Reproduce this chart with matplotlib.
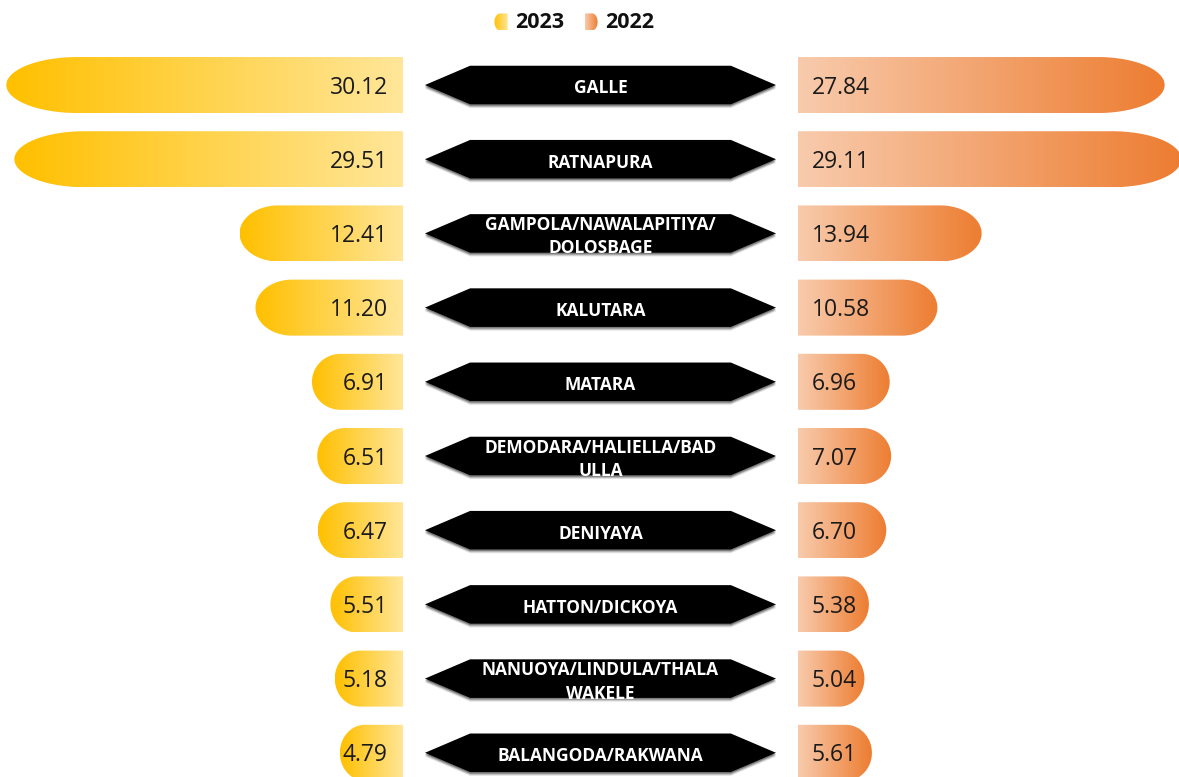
import numpy as np
import matplotlib.pyplot as plt
from matplotlib.colors import LinearSegmentedColormap
from matplotlib.patches import Polygon

regions = ["GALLE", "RATNAPURA", "GAMPOLA/NAWALAPITIYA/\nDOLOSBAGE", "KALUTARA",
           "MATARA", "DEMODARA/HALIELLA/BAD\nULLA", "DENIYAYA", "HATTON/DICKOYA",
           "NANUOYA/LINDULA/THALA\nWAKELE", "BALANGODA/RAKWANA"]
v2023 = [30.12, 29.51, 12.41, 11.20, 6.91, 6.51, 6.47, 5.51, 5.18, 4.79]
v2022 = [27.84, 29.11, 13.94, 10.58, 6.96, 7.07, 6.70, 5.38, 5.04, 5.61]
years = ["2023", "2022"]

plt.rcParams['font.family'] = ['Open Sans', 'DejaVu Sans']

cmap23 = LinearSegmentedColormap.from_list("c23", ["#FFC000", "#FFE699"])
cmap22 = LinearSegmentedColormap.from_list("c22", ["#F8CBAD", "#ED7D31"])

GAP = 15.0      # half width of the middle gap, in value units
BAR_H = 0.755


def bar_shape(x0, x1, yc, h, cap):
    # flat end at x0, rounded end at x1
    s = 1 if x1 > x0 else -1
    xc = x1 - s * cap
    t = np.linspace(-np.pi / 2, np.pi / 2, 60)
    ex = xc + s * cap * np.cos(t)
    ey = yc + h / 2 * np.sin(t)
    return [(x0, yc - h / 2)] + list(zip(ex, ey)) + [(x0, yc + h / 2)]


def grad_bar(ax, x0, x1, yc, h, cap, cmap):
    poly = Polygon(bar_shape(x0, x1, yc, h, cap), closed=True,
                   facecolor='none', edgecolor='none')
    ax.add_patch(poly)
    grad = np.linspace(0, 1, 256).reshape(1, -1)
    im = ax.imshow(grad, cmap=cmap, aspect='auto', interpolation='bilinear',
                   extent=[min(x0, x1), max(x0, x1), yc + h / 2, yc - h / 2])
    im.set_clip_path(poly)


fig = plt.figure(figsize=(11.79, 7.77), dpi=100)
ax = fig.add_axes([0, 0, 1, 1])

for i, (name, a, b) in enumerate(zip(regions, v2023, v2022)):
    grad_bar(ax, -GAP, -GAP - a, i, BAR_H, 1.2 + 0.14 * a, cmap23)
    grad_bar(ax, GAP, GAP + b, i, BAR_H, 1.2 + 0.14 * b, cmap22)

    ax.text(-GAP - 1.15, i + 0.035, f"{a:.2f}", ha='right', va='center',
            fontsize=16.5, color='#1a1a1a')
    ax.text(GAP + 1.05, i + 0.035, f"{b:.2f}", ha='left', va='center',
            fontsize=16.5, color='#1a1a1a')

    # black double arrow with the region name
    hx = [-13.33, -9.9, 9.9, 13.33, 9.9, -9.9]
    hy = [0, -0.26, -0.26, 0, 0.26, 0.26]
    for off, al in [(0.05, 0.12), (0.035, 0.2), (0.02, 0.3)]:
        ax.add_patch(Polygon([(x, i + y + off) for x, y in zip(hx, hy)],
                             closed=True, facecolor='#000000', alpha=al,
                             edgecolor='none'))
    ax.add_patch(Polygon([(x, i + y) for x, y in zip(hx, hy)], closed=True,
                         facecolor='black', edgecolor='none'))
    ax.text(0, i + 0.045, name, ha='center', va='center', color='white',
            fontsize=12.5, fontweight='bold', linespacing=1.38)

# legend
grad_bar(ax, -7.05, -8.05, -0.85, 0.23, 0.42, cmap23)
grad_bar(ax, -1.2, -0.22, -0.85, 0.23, 0.42, cmap22)
ax.text(-6.49, -0.84, years[0], ha='left', va='center', fontsize=15.5,
        fontweight='bold', color='#111111')
ax.text(0.34, -0.84, years[1], ha='left', va='center', fontsize=15.5,
        fontweight='bold', color='#111111')

ax.set_xlim(-45.6, 43.93)
ax.set_ylim(9.326, -1.146)
ax.axis('off')

fig.savefig("out.png", dpi=100, facecolor='white')
